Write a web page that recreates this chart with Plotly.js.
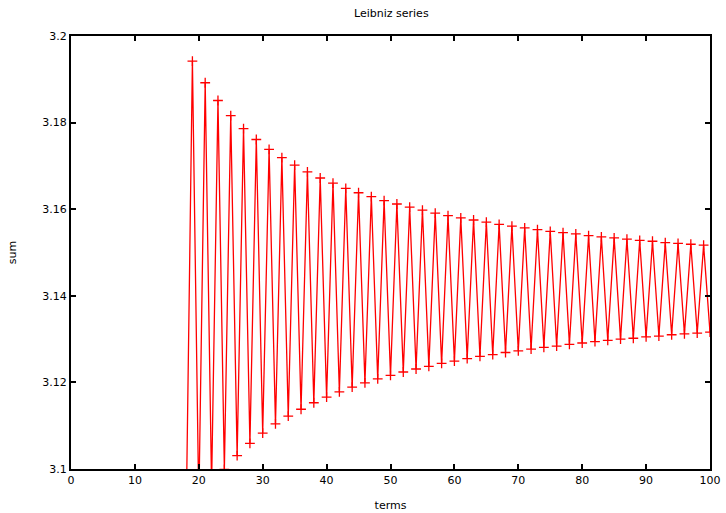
<!DOCTYPE html>
<html>
<head>
<meta charset="utf-8">
<script src="https://cdn.plot.ly/plotly-3.0.1.min.js"></script>
<style>html,body{margin:0;padding:0;background:#fff;}#chart{width:726px;height:513px;}</style>
</head>
<body>
<div id="chart"></div>
<script>
var terms = [];
for (var i = 18; i <= 100; i++) terms.push(i);
var sums = [
3.0861, 3.1942, 3.0916,
3.1892, 3.0962, 3.1851, 3.0999, 3.1816, 3.1031, 3.1786, 3.1059, 3.1761, 3.1083,
3.1738, 3.1104, 3.1719, 3.1122, 3.1702, 3.1138, 3.1686, 3.1153, 3.1672, 3.1166,
3.1660, 3.1178, 3.1648, 3.1189, 3.1638, 3.1199, 3.1629, 3.1208, 3.1620, 3.1216,
3.1612, 3.1224, 3.1605, 3.1231, 3.1598, 3.1237, 3.1591, 3.1244, 3.1585, 3.1249,
3.1580, 3.1255, 3.1575, 3.1260, 3.1570, 3.1264, 3.1565, 3.1269, 3.1561, 3.1273,
3.1557, 3.1277, 3.1553, 3.1281, 3.1549, 3.1284, 3.1546, 3.1288, 3.1543, 3.1291,
3.1539, 3.1294, 3.1536, 3.1297, 3.1534, 3.1300, 3.1531, 3.1302, 3.1528, 3.1305,
3.1526, 3.1307, 3.1523, 3.1310, 3.1521, 3.1312, 3.1519, 3.1314, 3.1517, 3.1316
];
var xTicks = [0, 10, 20, 30, 40, 50, 60, 70, 80, 90, 100];
var yTicks = [3.1, 3.12, 3.14, 3.16, 3.18, 3.2];
var yTickText = ["3.1", "3.12", "3.14", "3.16", "3.18", "3.2"];

var font = {family: "DejaVu Sans", size: 11, color: "#000"};
Plotly.newPlot("chart", [{
  x: terms, y: sums, type: "scatter", mode: "lines+markers",
  line: {color: "#ff0000", width: 1.3},
  marker: {symbol: "cross-thin", size: 7, line: {color: "#ff0000", width: 1.3}, color: "#ff0000"},
  showlegend: false
}], {
  width: 726, height: 513,
  margin: {l: 71, r: 16, t: 36, b: 44},
  paper_bgcolor: "#fff", plot_bgcolor: "#fff",
  font: font,
  title: {text: "Leibniz series", x: 0.539, xanchor: "center", y: 0.975, yanchor: "middle", font: font},
  xaxis: {
    range: [0, 100], tickvals: xTicks, ticktext: xTicks.map(String),
    showgrid: false, zeroline: false, showline: true, linecolor: "#000", linewidth: 2,
    mirror: "ticks", ticks: "inside", ticklen: 5, tickcolor: "#000", tickwidth: 2,
    title: {text: "terms", font: font, standoff: 15}
  },
  yaxis: {
    range: [3.1, 3.2], tickvals: yTicks, ticktext: yTickText,
    showgrid: false, zeroline: false, showline: true, linecolor: "#000", linewidth: 2,
    mirror: "ticks", ticks: "inside", ticklen: 5, tickcolor: "#000", tickwidth: 2,
    title: {text: "sum", font: font, standoff: 23}
  }
}, {staticPlot: true});
</script>
</body>
</html>
